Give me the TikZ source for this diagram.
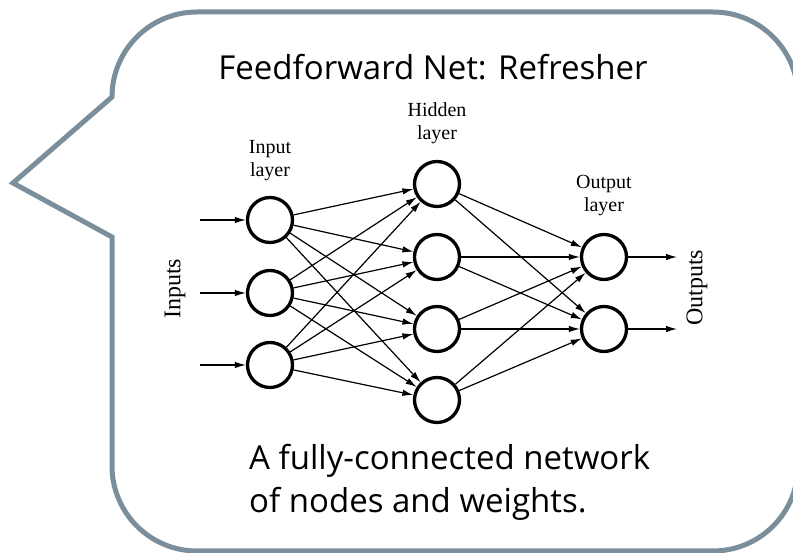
\documentclass[tikz,border=0pt]{standalone}
\usepackage{fontspec}
\setmainfont{Liberation Serif}
\newfontfamily\slidefont{Open Sans}
\usepackage{tikz}
\usetikzlibrary{arrows.meta,positioning}
\definecolor{bubc}{HTML}{7A8F9B}
\tikzset{
  ar/.style={-{Latex[length=11pt,width=6.5pt]},line width=1.2pt,black},
  neur/.style={circle,draw=black,line width=3.3pt,minimum size=45pt,inner sep=0pt},
  lbl/.style={font=\fontsize{20}{23}\selectfont,align=center,anchor=base,inner sep=0pt},
  side/.style={font=\fontsize{24}{26}\selectfont,rotate=90,anchor=center},
  big/.style={font=\slidefont\fontsize{33}{43}\selectfont,inner sep=0pt}
}

\begin{document}
\begin{tikzpicture}[x=1pt,y=1pt]
\useasboundingbox (0,0) rectangle (793,553);
% speech bubble
\draw[bubc,line width=5pt,line join=miter] (112,456) -- (13,370) -- (112,316) -- (112,87)
  arc[start angle=180,end angle=270,radius=85] -- (713,2)
  arc[start angle=270,end angle=360,radius=85] -- (798,456)
  arc[start angle=0,end angle=90,radius=85] -- (197,541)
  arc[start angle=90,end angle=180,radius=85] -- cycle;
\node[big,anchor=base] (title) at (433,473) {Feedforward Net: Refresher};
\node[big,anchor=base west,align=left] (cap) at (249,40) {A fully-connected network\\of nodes and weights.};
% layers
\node[neur] (i1) at (270,333) {};
\node[neur] (i2) at (270,260) {};
\node[neur] (i3) at (270,188) {};
\node[neur] (h1) at (437,369) {};
\node[neur] (h2) at (437,296) {};
\node[neur] (h3) at (437,224) {};
\node[neur] (h4) at (437,153) {};
\node[neur] (o1) at (604,296) {};
\node[neur] (o2) at (604,224) {};
\node[lbl] (li) at (270,376) {Input\\layer};
\node[lbl] (lh) at (437,413) {Hidden\\layer};
\node[lbl] (lo) at (604,341) {Output\\layer};
\node[side] (ins) at (175,264) {Inputs};
\node[side] (outs) at (697,265) {Outputs};
% weights
\foreach \a in {1,2,3} \foreach \b in {1,...,4} \draw[ar] (i\a) -- (h\b);
\foreach \a in {1,...,4} \foreach \b in {1,2} \draw[ar] (h\a) -- (o\b);
\coordinate (s1) at (200,333);
\coordinate (s2) at (200,260);
\coordinate (s3) at (200,188);
\coordinate (t1) at (677,296);
\coordinate (t2) at (677,224);
\draw[ar] (s1) -- (i1);
\draw[ar] (s2) -- (i2);
\draw[ar] (s3) -- (i3);
\draw[ar] (o1) -- (t1);
\draw[ar] (o2) -- (t2);
\end{tikzpicture}
\end{document}
